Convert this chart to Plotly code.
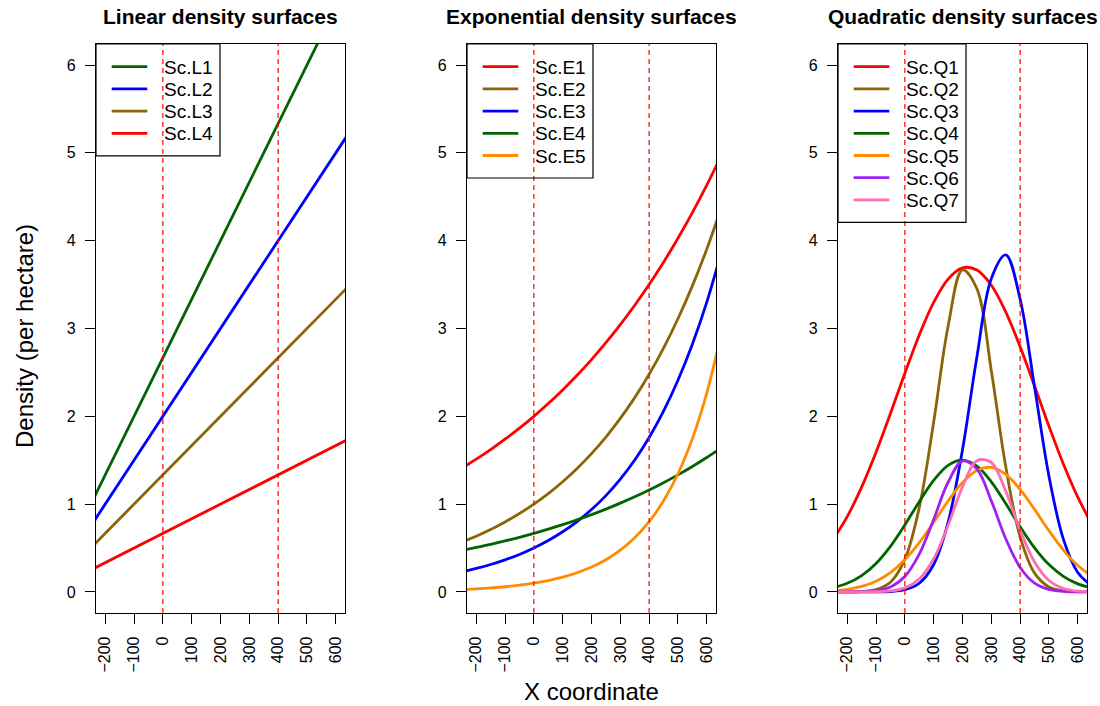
import plotly.graph_objects as go

# ---------------- data ----------------
x_lin = [-250, 650]
L1 = [1.0, 7.0]
L2 = [0.75, 5.25]
L3 = [0.5, 3.5]
L4 = [0.25, 1.75]

x_curve = [-250, -200, -150, -100, -50, 0, 50, 100, 150, 200, 250, 300, 350, 400, 450, 500, 550, 600, 650]

E1 = [1.409, 1.512, 1.621, 1.739, 1.865, 2.000, 2.145, 2.301, 2.467, 2.646, 2.838, 3.044, 3.265, 3.501, 3.755, 4.028, 4.320, 4.633, 4.969]
E2 = [0.567, 0.635, 0.711, 0.797, 0.893, 1.000, 1.120, 1.255, 1.406, 1.575, 1.764, 1.976, 2.213, 2.479, 2.777, 3.111, 3.485, 3.904, 4.373]
E3 = [0.228, 0.267, 0.312, 0.365, 0.427, 0.500, 0.585, 0.685, 0.801, 0.938, 1.097, 1.285, 1.503, 1.759, 2.059, 2.410, 2.820, 3.300, 3.862]
E4 = [0.472, 0.506, 0.542, 0.581, 0.622, 0.667, 0.715, 0.766, 0.821, 0.880, 0.943, 1.011, 1.083, 1.161, 1.244, 1.333, 1.429, 1.531, 1.641]
E5 = [0.027, 0.035, 0.046, 0.059, 0.077, 0.100, 0.130, 0.168, 0.218, 0.283, 0.367, 0.476, 0.617, 0.800, 1.038, 1.346, 1.746, 2.265, 2.937]

Q1 = [0.592, 0.858, 1.193, 1.590, 2.032, 2.491, 2.927, 3.298, 3.563, 3.691, 3.666, 3.492, 3.189, 2.792, 2.345, 1.888, 1.457, 1.079, 0.766]
Q2 = [0.000, 0.001, 0.005, 0.026, 0.110, 0.370, 0.960, 1.935, 3.025, 3.668, 3.452, 2.520, 1.427, 0.627, 0.214, 0.057, 0.012, 0.002, 0.000]
Q3 = [0.000, 0.000, 0.000, 0.001, 0.005, 0.025, 0.099, 0.312, 0.791, 1.620, 2.677, 3.569, 3.839, 3.333, 2.334, 1.319, 0.601, 0.221, 0.066]
Q4 = [0.047, 0.098, 0.186, 0.324, 0.519, 0.763, 1.028, 1.271, 1.442, 1.500, 1.432, 1.254, 1.007, 0.742, 0.502, 0.311, 0.177, 0.092, 0.044]
Q5 = [0.013, 0.030, 0.063, 0.122, 0.220, 0.366, 0.561, 0.793, 1.035, 1.246, 1.384, 1.418, 1.340, 1.168, 0.940, 0.697, 0.477, 0.301, 0.176]
Q6 = [0.000, 0.000, 0.003, 0.015, 0.057, 0.176, 0.430, 0.825, 1.249, 1.490, 1.400, 1.037, 0.606, 0.279, 0.101, 0.029, 0.007, 0.001, 0.000]
Q7 = [0.000, 0.000, 0.000, 0.002, 0.011, 0.046, 0.148, 0.377, 0.756, 1.197, 1.495, 1.474, 1.147, 0.704, 0.341, 0.130, 0.039, 0.009, 0.003]

lin_names = ["Sc.L1", "Sc.L2", "Sc.L3", "Sc.L4"]
lin_colors = ["#006400", "#0000FF", "#8B6508", "#FF0000"]
exp_names = ["Sc.E1", "Sc.E2", "Sc.E3", "Sc.E4", "Sc.E5"]
exp_colors = ["#FF0000", "#8B6508", "#0000FF", "#006400", "#FF8C00"]
quad_names = ["Sc.Q1", "Sc.Q2", "Sc.Q3", "Sc.Q4", "Sc.Q5", "Sc.Q6", "Sc.Q7"]
quad_colors = ["#FF0000", "#8B6508", "#0000FF", "#006400", "#FF8C00", "#A020F0", "#FF6EB4"]

panel_titles = ["Linear density surfaces", "Exponential density surfaces", "Quadratic density surfaces"]
x_ticks = [-200, -100, 0, 100, 200, 300, 400, 500, 600]
y_ticks = [0, 1, 2, 3, 4, 5, 6]
ref_lines = [0, 400]
x_title = "X coordinate"
y_title = "Density (per hectare)"

# ---------------- layout ----------------
W, H = 1100, 706
FONT = "Liberation Sans, Arial, Helvetica, sans-serif"
panels_px = [(96, 345), (467, 716), (838, 1087)]
top_px, bot_px = 44, 613
legend_w = [124, 126, 128]

def px_x(p):
    return p / W

def px_y(p):
    return 1 - p / H

fig = go.Figure()

groups = [
    (x_lin, [L1, L2, L3, L4], lin_names, lin_colors, "linear"),
    (x_curve, [E1, E2, E3, E4, E5], exp_names, exp_colors, "spline"),
    (x_curve, [Q1, Q2, Q3, Q4, Q5, Q6, Q7], quad_names, quad_colors, "spline"),
]

shapes = []
annotations = []
layout_axes = {}

for i, ((xs, series, names, colors, shape), (l, r)) in enumerate(zip(groups, panels_px)):
    sfx = "" if i == 0 else str(i + 1)
    xa, ya = "x" + sfx, "y" + sfx
    for ys, nm, col in zip(series, names, colors):
        fig.add_trace(go.Scatter(
            x=xs, y=ys, mode="lines", name=nm, showlegend=False,
            line=dict(color=col, width=2.8, shape=shape, smoothing=1.0),
            xaxis=xa, yaxis=ya))
    common = dict(showline=True, mirror=True, linecolor="black", linewidth=1.2,
                  ticks="outside", ticklen=10, tickwidth=1.2, tickcolor="black",
                  showgrid=False, zeroline=False, fixedrange=True,
                  tickfont=dict(family=FONT, size=16, color="black"),
                  ticklabelstandoff=6)
    layout_axes["xaxis" + sfx] = dict(
        domain=[px_x(l), px_x(r)], anchor=ya, range=[-232, 632],
        tickmode="array", tickvals=x_ticks, tickangle=-90, **common)
    layout_axes["yaxis" + sfx] = dict(
        domain=[px_y(bot_px), px_y(top_px)], anchor=xa, range=[-0.24, 6.24],
        tickmode="array", tickvals=y_ticks, **common)
    # dashed reference lines
    for xv in ref_lines:
        shapes.append(dict(type="line", xref=xa, yref=ya + " domain", x0=xv, x1=xv, y0=0, y1=1,
                           line=dict(color="#FF0000", width=1.2, dash="5px,4px"), layer="above"))
    # panel title
    annotations.append(dict(text=panel_titles[i], x=px_x((l + r) / 2), y=px_y(16.5),
                            xref="paper", yref="paper", showarrow=False,
                            xanchor="center", yanchor="middle",
                            font=dict(family=FONT, size=21, color="black", weight="bold")))
    # manual legend (R-style box at top-left)
    n = len(names)
    step = 22.2
    first = top_px + 22.7
    box_bottom = first + (n - 1) * step + 22.5
    shapes.append(dict(type="rect", xref="paper", yref="paper",
                       x0=px_x(l), x1=px_x(l + legend_w[i]), y0=px_y(box_bottom), y1=px_y(top_px),
                       line=dict(color="black", width=1.2), fillcolor="rgba(0,0,0,0)", layer="above"))
    for k, (nm, col) in enumerate(zip(names, colors)):
        yc = first + k * step
        shapes.append(dict(type="line", xref="paper", yref="paper",
                           x0=px_x(l + 15.7), x1=px_x(l + 51.3), y0=px_y(yc), y1=px_y(yc),
                           line=dict(color=col, width=2.8), layer="above"))
        annotations.append(dict(text=nm, x=px_x(l + 65.5), y=px_y(yc + 0.5), xref="paper", yref="paper",
                                showarrow=False, xanchor="left", yanchor="middle",
                                font=dict(family=FONT, size=19, color="black")))

# axis titles
annotations.append(dict(text=x_title, x=px_x(591.5), y=px_y(691), xref="paper", yref="paper",
                        showarrow=False, xanchor="center", yanchor="middle",
                        font=dict(family=FONT, size=24, color="black")))
annotations.append(dict(text=y_title, x=px_x(24), y=px_y(336), xref="paper", yref="paper",
                        showarrow=False, xanchor="center", yanchor="middle", textangle=-90,
                        font=dict(family=FONT, size=24, color="black")))

fig.update_layout(
    width=W, height=H,
    margin=dict(l=0, r=0, t=0, b=0),
    paper_bgcolor="white", plot_bgcolor="white",
    showlegend=False,
    shapes=shapes, annotations=annotations,
    font=dict(family=FONT, color="black"),
    **layout_axes)

fig.write_html("out.html")
